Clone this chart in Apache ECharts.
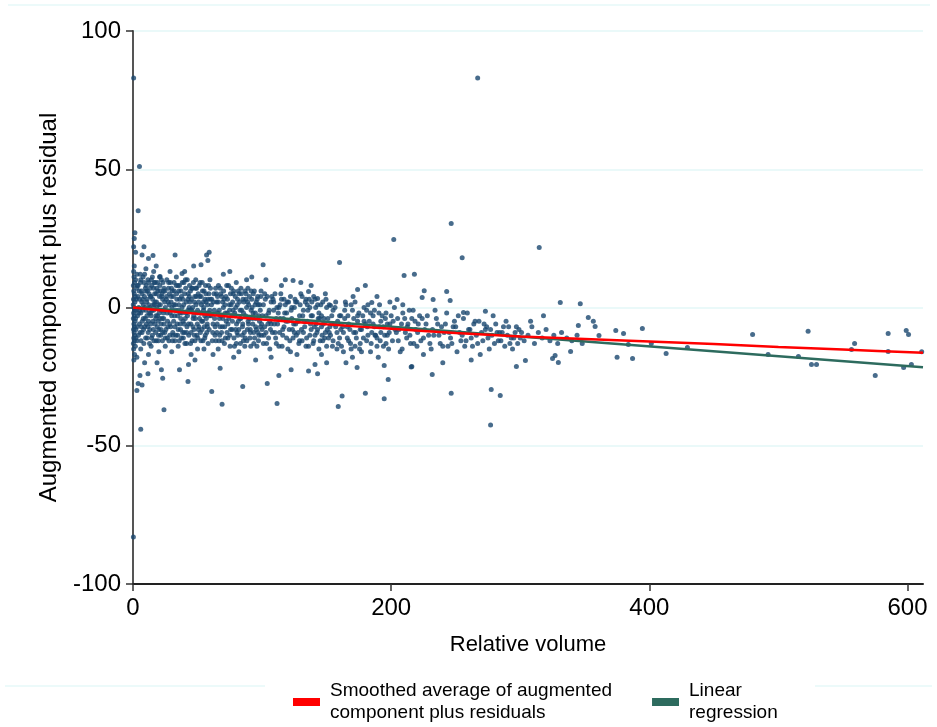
<!DOCTYPE html>
<html><head><meta charset="utf-8">
<script src="https://cdn.jsdelivr.net/npm/echarts@6/dist/echarts.min.js"></script>
<style>html,body{margin:0;padding:0;background:#fff}#c{width:937px;height:727px}</style>
</head><body><div id="c"></div>
<script>
// x ticks / y ticks
const xTicks = [0, 200, 400, 600];
const yTicks = [-100, -50, 0, 50, 100];

const ptsAxis = [[0.5,83],[0.3,-83],[4,35],[1.5,27],[1,25],[0.5,22],[2,20],[1,15],[0.5,13],[0.8,11],[1.2,9],[0.3,8],[0.6,6],[1,5],[0.4,3],[1.5,2],[0.2,1],[0.8,0],[1.3,-1],[0.5,-2],[1,-3],[0.3,-4],[1.6,-5],[0.7,-6],[1.1,-7],[0.4,-8],[0.9,-9],[1.4,-10],[0.6,-11],[1,-12],[0.3,-13],[1.8,-14],[0.5,-15],[1.2,-17],[0.7,-19],[2,-4],[2.5,3],[2.2,-8],[2.8,7],[2.4,-1],[3,12],[3,-12]];
const pts3to25 = [[4,8],[5,3],[5,-6],[6,10],[6,-2],[7,5],[7,-9],[8,1],[8,-4],[9,12],[9,-7],[10,6],[10,-1],[11,-11],[11,3],[12,9],[12,-5],[13,0],[13,-8],[14,4],[14,-3],[15,11],[15,-10],[16,7],[16,-1],[17,2],[17,-6],[18,-12],[18,5],[19,9],[19,-3],[20,1],[20,-8],[21,6],[21,-4],[22,10],[22,-1],[23,3],[23,-9],[24,-6],[24,7],[25,0],[25,-11],
[3.5,-3],[4.5,0],[5.5,-9],[6.5,6],[7.5,-1],[8.5,9],[9.5,-4],[10.5,2],[11.5,-7],[12.5,5],[13.5,-2],[14.5,8],[15.5,-5],[16.5,1],[17.5,-9],[18.5,0],[19.5,-5],[20.5,4],[21.5,-10],[22.5,5],[23.5,-2],[24.5,2],
[8.5,22],[7,19],[12,17.7],[15.5,18.8],[18,15],[9,-20],[18.6,-20],[5.4,-24.6],[4,-27.5],[7,-28],[3,-30],[11.6,-24],[23,-25.6],[22,-22.5],[24,-37],[6,-44],[5,51],[21,11.2],[10,14],[6,-15],[14,-14],[20,-16],[3,-18],[12,-17],[16,13],[25,-14]];
const pts25to60 = [[26,4],[27,-7],[28,1],[29,9],[30,-3],[31,-10],[32,6],[33,-1],[34,3],[35,-8],[36,8],[37,-4],[38,0],[39,-11],[40,5],[41,-2],[42,10],[43,-6],[44,2],[45,-9],[46,7],[47,-3],[48,-12],[49,4],[50,-1],[51,-7],[52,9],[53,1],[54,-5],[55,6],[56,-10],[57,-2],[58,3],[59,-8],[60,7],
[26.5,-2],[27.5,7],[28.5,-10],[29.5,2],[30.5,6],[31.5,-5],[32.5,-12],[33.5,8],[34.5,-3],[35.5,1],[36.5,-6],[37.5,4],[38.5,-9],[39.5,9],[40.5,-4],[41.5,-13],[42.5,3],[43.5,0],[44.5,6],[45.5,-1],[46.5,-7],[47.5,2],[48.5,7],[49.5,-10],[50.5,5],[51.5,-4],[52.5,-2],[53.5,-8],[54.5,2],[55.5,-3],[56.5,5],[57.5,-6],[58.5,8],[59.5,-1],
[32.6,19],[28.7,13],[38,12.3],[47,15],[52.7,15.5],[57,19],[59,20],[58,17],[36,-22.5],[42.6,-26.8],[43,-20.6],[30,-16],[50,-15],[45,-17],[35,-14],[55,-15],[40,13],[48,-19]];
const pts60to100 = [[61,3],[62,-6],[63,-1],[64,7],[65,-9],[66,2],[67,-4],[68,5],[69,-12],[70,0],[71,-7],[72,4],[73,-2],[74,8],[75,-10],[76,1],[77,-5],[78,6],[79,-3],[80,-13],[81,3],[82,-8],[83,-1],[84,5],[85,-6],[86,2],[87,-11],[88,0],[89,7],[90,-4],[91,-9],[92,3],[93,-2],[94,6],[95,-7],[96,-14],[97,1],[98,-5],[99,4],[100,-8],
[60.5,-3],[63.5,-10],[65.5,4],[67.5,-7],[69.5,2],[71.5,-2],[73.5,-11],[75.5,5],[77.5,-1],[79.5,-8],[81.5,6],[83.5,-4],[85.5,-12],[87.5,3],[89.5,-6],[91.5,-1],[93.5,-9],[95.5,2],[97.5,-3],[99.5,-10],
[61,-30.4],[67.5,-22],[69,-35],[85,-28.6],[62,-17],[70,12],[78,-18],[88,10],[95,-19],[75,13],[82,-16],[66,-15],[92,11],[80,9]];
const pts100to150 = [[101,1],[102,-7],[103,-3],[104,4],[105,-11],[106,-5],[107,2],[108,-9],[109,-1],[110,5],[111,-13],[112,-6],[113,0],[114,-4],[115,3],[116,-10],[117,-7],[118,1],[119,-2],[120,-15],[121,-8],[122,4],[123,-4],[124,-11],[125,0],[126,-6],[127,2],[128,-9],[129,-3],[130,5],[131,-12],[132,-1],[133,-7],[134,3],[135,-5],[136,-14],[137,0],[138,-8],[139,-3],[140,4],[141,-10],[142,-6],[143,1],[144,-2],[145,-12],[146,-7],[147,2],[148,-4],[149,-9],[150,0],
[104.5,-6],[108.5,3],[112.5,-2],[116.5,-4],[120.5,2],[124.5,-6],[128.5,-13],[132.5,-5],[136.5,3],[140.5,-7],[144.5,-4],[148.5,-11],
[100.8,15.5],[118,10],[124,9.8],[130,9],[136,5.8],[143,3.3],[104,-27.5],[111.6,-34.7],[113,-24.6],[122.5,-22.5],[136,-23],[141,-20.6],[143,-24],[150,-20],[107,-18],[127,-17],[146,-17],[115,8],[103,10],[138,8]];
const pts150to220 = [[151,-4],[153,-10],[155,-1],[157,-7],[159,-13],[161,-3],[163,-9],[165,1],[167,-6],[169,-15],[171,-4],[173,-11],[175,-2],[177,-8],[179,0],[181,-12],[183,-5],[185,-9],[187,-1],[189,-14],[191,-7],[193,-3],[195,-10],[197,-6],[199,2],[201,-12],[203,-8],[205,-4],[207,-16],[209,-2],[211,-9],[213,-6],[215,-13],[217,-1],[219,-8],
[152,1],[156,-6],[160,-11],[164,-4],[168,-8],[172,2],[176,-13],[180,-6],[184,-2],[188,-10],[192,-5],[196,-13],[200,-3],[204,-9],[208,-6],[212,-11],[216,-4],[220,-14],
[160,16.3],[153,0.7],[170.5,4],[174,6.5],[180,8],[185,1.8],[189,4],[159,-35.8],[162,-32],[165,-20],[173.6,-21.7],[180,-31],[194.6,-21],[194.6,-33],[197.7,-26],[215.5,-21.5],[202,24.6],[210,11.6],[209,1],[204.6,2.9],[216,-21.3],[190,-18],[170,-18]];
const pts220to300 = [[221,-6],[223,-12],[226,-8],[228,-3],[231,-15],[233,-10],[236,-6],[238,-13],[241,-9],[243,-2],[246,-11],[248,-7],[251,-16],[253,-9],[256,-4],[258,-12],[261,-8],[263,-14],[266,-10],[268,-5],[271,-12],[273,-8],[276,-15],[278,-10],[281,-6],[283,-12],[286,-9],[288,-14],[291,-7],[293,-11],[296,-9],[298,-13],
[224,-4],[229,-10],[234,-1],[239,-7],[244,-14],[249,-5],[254,-12],[259,-2],[264,-6],[269,-17],[274,-7],[279,-3],[284,-9],[289,-5],[294,-15],[299,-8],
[225.6,6.1],[224,3.6],[232.5,2.9],[243,5.8],[245.7,2.5],[255,18],[246.5,30.4],[273,-1.4],[256,-1.8],[267,83],[277,-42.5],[246.5,-31],[277.5,-29.7],[284.5,-31.8],[231.8,-24.2],[297,-21.3],[304,-19.2],[225,-17],[218,12],[240,-20],[262,-19]];
const pts300to360 = [[301,-9],[303,-12],[306,-10],[309,-7],[311,-13],[314,-9],[317,-11],[320,-8],[323,-12],[326,-10],[329,-13],[332,-9],[336,-11],[340,-12],[344,-10],[348,-13],
[314.7,21.7],[346.5,1.4],[331,1.8],[352.7,-3.6],[356.6,-5],[345,-6.5],[358,-6.9],[361,-10.1],[339,-15.9],[325,-18.4],[329.5,-19.9],[327,-17.4],[308,-5],[318,-3]];
const ptsAbove360 = [[374,-8.3],[380,-9.4],[394.6,-7.6],[383.7,-13.4],[401.5,-13],[413,-16.6],[375,-18],[387,-18.4],[429.5,-14.5],[480,-9.8],[492,-17],[515.5,-17.7],[523,-8.6],[525.6,-20.6],[529.5,-20.6],[556.6,-15.2],[559,-13],[575,-24.6],[585,-9.4],[585,-15.9],[597,-21.7],[599,-8.3],[600.8,-9.8],[603,-20.6],[611,-16]];
const ptsDense0to60 = [[2,10],[3,-7],[3.8,4],[4.2,-10],[4.8,6],[5.2,-1],[5.8,9],[6.2,-12],[6.8,2],[7.2,-5],[7.8,11],[8.2,-8],[8.8,4],[9.2,0],[9.8,-11],[10.2,8],[10.8,-3],[11.2,6],[11.8,-9],[12.2,1],[12.8,-13],[13.2,7],[13.8,-6],[14.2,10],[14.8,-1],[15.2,3],[15.8,-8],[16.2,-12],[16.8,5],[17.2,9],[17.8,-3],[18.2,2],[18.8,-7],[19.2,6],[19.8,-10],[20.2,-2],[20.8,8],[21.2,1],[21.8,-6],[22.2,4],[22.8,-12],[23.2,9],[23.8,-4],[24.2,-1],[24.8,6],[25.5,-8],[26.2,10],[26.8,-5],[27.2,2],[27.8,-12],[28.2,5],[28.8,-2],[29.2,-7],[29.8,7],[30.2,0],[30.8,-9],[31.2,4],[31.8,9],[32.2,-3],[32.8,1],[33.2,-10],[33.8,5],[34.2,-6],[34.8,8],[35.2,-1],[35.8,-12],[36.2,3],[36.8,-8],[37.2,6],[37.8,-2],[38.2,9],[38.8,-5],[39.2,1],[39.8,-9],[40.2,-13],[40.8,7],[41.2,2],[41.8,-7],[42.2,-3],[42.8,5],[43.2,-10],[43.8,8],[44.2,-1],[44.8,-6],[45.2,3],[45.8,-12],[46.2,0],[46.8,9],[47.2,-8],[47.8,4],[48.2,-4],[48.8,1],[49.2,7],[49.8,-6],[50.2,-11],[50.8,2],[51.2,8],[51.8,-2],[52.2,-9],[52.8,4],[53.2,-5],[53.8,6],[54.2,-12],[54.8,0],[55.2,-7],[55.8,3],[56.2,8],[56.8,-4],[57.2,-9],[57.8,1],[58.2,-13],[58.8,5],[59.2,-3],[59.8,3]];
const ptsDense60to150 = [[60.8,1],[61.8,-9],[62.8,5],[63.2,-4],[64.2,-12],[64.8,2],[65.2,-6],[66.2,8],[66.8,-1],[67.2,-10],[68.2,-3],[68.8,4],[69.2,-7],[70.2,6],[70.8,-13],[71.2,1],[72.2,-5],[72.8,-9],[73.2,3],[74.2,-4],[74.8,-1],[75.2,-14],[76.2,7],[76.8,-8],[77.2,2],[78.2,-11],[78.8,-2],[79.2,4],[80.2,-6],[80.8,1],[81.2,-10],[82.2,5],[82.8,-4],[83.2,-13],[84.2,-1],[84.8,-7],[85.2,3],[86.2,-9],[86.8,6],[87.2,-3],[88.2,-12],[88.8,2],[89.2,-5],[90.2,4],[90.8,-8],[91.2,-14],[92.2,0],[92.8,-6],[93.2,5],[94.2,-11],[94.8,-2],[95.2,-4],[96.2,3],[96.8,-9],[97.2,-12],[98.2,1],[98.8,-7],[99.2,6],[100.2,-3],[101.5,-10],[102.5,3],[103.5,-13],[105.5,-1],[106.5,-8],[107.5,4],[109.5,-6],[110.5,-11],[111.5,0],[113.5,-9],[114.5,5],[115.5,-14],[117.5,-2],[118.5,-5],[119.5,2],[121.5,-12],[122.5,-1],[123.5,-8],[125.5,3],[126.5,-10],[127.5,-5],[129.5,1],[130.5,-8],[131.5,-3],[133.5,2],[134.5,-11],[135.5,-1],[137.5,-6],[138.5,2],[139.5,-13],[141.5,0],[142.5,-9],[143.5,-4],[145.5,1],[146.5,-10],[147.5,-6],[149.5,3],[150.5,-8]];
const ptsDense150to300 = [[151.5,-11],[152.5,-7],[154,-3],[154.5,-14],[156.5,0],[158,-9],[158.5,-5],[161.5,-14],[162.5,-7],[164.5,2],[166,-11],[166.5,-3],[168.5,-13],[170,-1],[172.5,-9],[174,-5],[175.5,-15],[178,-3],[178.5,-11],[181.5,-7],[182,1],[184.5,-13],[186,-6],[187.5,-10],[190.5,-2],[191.5,-12],[194,-7],[195.5,-4],[198,-15],[198.5,-9],[201.5,-5],[202.5,0],[205.5,-12],[206,-8],[208.5,-15],[210.5,-4],[212.5,-7],[214,-1],[214.5,-10],[217.5,-13],[218.5,-5],[220.5,-9],[222,-3],[225,-11],[227,-6],[230,-13],[232,-8],[235,-4],[237,-10],[240,-14],[242,-6],[245,-9],[247,-13],[250,-7],[252,-3],[255,-10],[257,-14],[260,-8],[262,-11],[265,-5],[267,-13],[270,-9],[272,-6],[275,-11],[277,-8],[280,-13],[282,-9],[285,-12],[287,-7],[290,-10],[292,-13],[295,-11],[297,-7],[300,-11]];
const ptsFill0to30 = [[1.7,4],[2.3,-11],[3.3,8],[4.4,-2],[5.6,12],[6.4,-7],[7.6,3],[8.4,-13],[9.6,7],[10.4,-6],[11.6,10],[12.4,-2],[13.6,4],[14.4,-11],[15.6,1],[16.4,9],[17.6,-4],[18.4,7],[19.6,-12],[20.6,11],[21.6,-8],[22.6,-4],[23.6,6],[24.6,-9],[25.8,3],[26.6,-11],[27.6,9],[28.6,-6],[29.6,4]];
const ptsFill30to100 = [[30.6,-12],[31.6,1],[32.4,-7],[33.6,11],[34.6,-10],[35.6,6],[36.6,-2],[37.6,-11],[38.6,3],[39.6,-6],[40.6,10],[41.6,-9],[42.6,-1],[43.6,4],[44.6,-13],[45.6,7],[46.6,-4],[47.6,-10],[48.6,10],[49.6,-2],[50.6,-8],[51.6,4],[52.6,-12],[53.6,9],[54.6,-1],[55.6,-11],[56.6,2],[57.6,-7],[58.6,-2],[59.6,10],[61.4,-12],[62.4,2],[63.6,-7],[64.6,5],[65.6,-2],[66.6,-12],[67.6,7],[68.6,-9],[69.6,-4],[70.6,3],[71.6,-11],[72.6,8],[73.6,-6],[74.6,1],[75.6,-8],[76.6,-3],[77.6,5],[78.6,-14],[79.6,0],[80.6,-9],[81.6,-5],[82.6,2],[83.6,7],[84.6,-10],[85.6,-2],[86.6,-14],[87.6,5],[88.6,-8],[89.6,1],[90.6,-11],[91.6,6],[92.6,-4],[93.6,-13],[94.6,1],[95.6,-8],[96.6,4],[97.6,-10],[98.6,-1],[99.6,-6]];
const ptsFill100to200 = [[101,-13],[102,5],[103,-9],[105,-2],[106,-15],[107,-6],[109,2],[110,-9],[111,-4],[113,-14],[114,1],[116,-8],[117,3],[119,-11],[120,-5],[122,-16],[123,0],[125,-9],[126,2],[128,-5],[129,-12],[131,4],[132,-9],[134,-14],[135,1],[137,-10],[138,-3],[140,-12],[141,3],[143,-8],[144,-15],[146,-3],[147,-12],[149,5],[150,-14],[152,-9],[154,-6],[155,-12],[157,2],[158,-15],[160,-3],[161,-8],[163,-16],[164,-1],[166,-7],[167,-12],[169,1],[171,-9],[172,-14],[174,-3],[176,-8],[177,-16],[179,-5],[181,-1],[182,-10],[184,-16],[186,-3],[187,-7],[189,-11],[191,1],[192,-9],[194,-14],[196,-2],[197,-10],[199,-6]];

// Smoothed average line
const smoothX = [0, 25, 50, 100, 150, 200, 250, 300, 350, 400, 450, 500, 550, 612];
const smoothY = [0, -1.2, -2.3, -4.3, -6.1, -7.7, -9.2, -10.5, -11.4, -12.3, -13.2, -14.3, -15.2, -16.4];
// Linear regression line
const regX = [0, 612];
const regY = [0.2, -21.6];

const smoothName = 'Smoothed average of augmented component plus residuals';
const regName = 'Linear regression';

const allPts = [].concat(ptsAxis, pts3to25, pts25to60, pts60to100, pts100to150, pts150to220, pts220to300, pts300to360, ptsAbove360, ptsDense0to60, ptsDense60to150, ptsDense150to300, ptsFill0to30, ptsFill30to100, ptsFill100to200);

const FONT = '"Liberation Sans", Arial, sans-serif';
const chart = echarts.init(document.getElementById('c'));
chart.setOption({
  animation: false,
  backgroundColor: '#ffffff',
  grid: { left: 133, right: 14, top: 31, bottom: 143, containLabel: false },
  xAxis: {
    type: 'value', min: 0, max: 612, interval: 200,
    name: 'Relative volume', nameLocation: 'middle', nameGap: 50,
    nameTextStyle: { fontFamily: FONT, fontSize: 22, color: '#000' },
    axisLine: { onZero: false, lineStyle: { color: '#222', width: 2 } },
    axisTick: { show: true, length: 7, lineStyle: { color: '#333', width: 1.5 }, customValues: xTicks },
    axisLabel: { fontFamily: FONT, fontSize: 24, color: '#000', margin: 12, customValues: xTicks },
    splitLine: { show: false }
  },
  yAxis: {
    type: 'value', min: -100, max: 100, interval: 50,
    name: 'Augmented component plus residual', nameLocation: 'middle', nameGap: 72,
    nameTextStyle: { fontFamily: FONT, fontSize: 24, color: '#000' },
    axisLine: { show: true, onZero: false, lineStyle: { color: '#555', width: 2 } },
    axisTick: { show: true, length: 7, lineStyle: { color: '#333', width: 1.5 }, customValues: yTicks },
    axisLabel: { fontFamily: FONT, fontSize: 24, color: '#000', margin: 12, customValues: yTicks },
    splitLine: { show: true, lineStyle: { color: '#e3f7f7', width: 1.5 } }
  },
  legend: {
    left: 288, top: 675, itemWidth: 27, itemHeight: 8, itemGap: 40,
    icon: 'rect', data: [smoothName, regName],
    formatter: function (n) { return n === smoothName ? 'Smoothed average of augmented\ncomponent plus residuals' : 'Linear\nregression'; },
    textStyle: { fontFamily: FONT, fontSize: 19, color: '#000', lineHeight: 22, padding: [0, 0, 0, 5] }
  },
  series: [
    { type: 'scatter', name: 'points', data: allPts, symbol: 'circle', symbolSize: 5,
      itemStyle: { color: '#1a476f' }, z: 2 },
    { type: 'line', name: regName, data: regX.map((x, i) => [x, regY[i]]), showSymbol: false,
      lineStyle: { color: '#2d6b5e', width: 2.5 }, itemStyle: { color: '#2d6b5e' }, z: 3 },
    { type: 'line', name: smoothName, data: smoothX.map((x, i) => [x, smoothY[i]]), showSymbol: false, smooth: 0.3,
      lineStyle: { color: '#ff0000', width: 2.5 }, itemStyle: { color: '#ff0000' }, z: 4 }
  ],
  graphic: [
    { type: 'line', shape: { x1: 8, y1: 5, x2: 930, y2: 5 }, style: { stroke: '#e6f8f8', lineWidth: 1.5 }, silent: true },
    { type: 'line', shape: { x1: 5, y1: 686, x2: 265, y2: 686 }, style: { stroke: '#e6f8f8', lineWidth: 1.5 }, silent: true },
    { type: 'line', shape: { x1: 815, y1: 686, x2: 932, y2: 686 }, style: { stroke: '#e6f8f8', lineWidth: 1.5 }, silent: true }
  ]
});
</script></body></html>
